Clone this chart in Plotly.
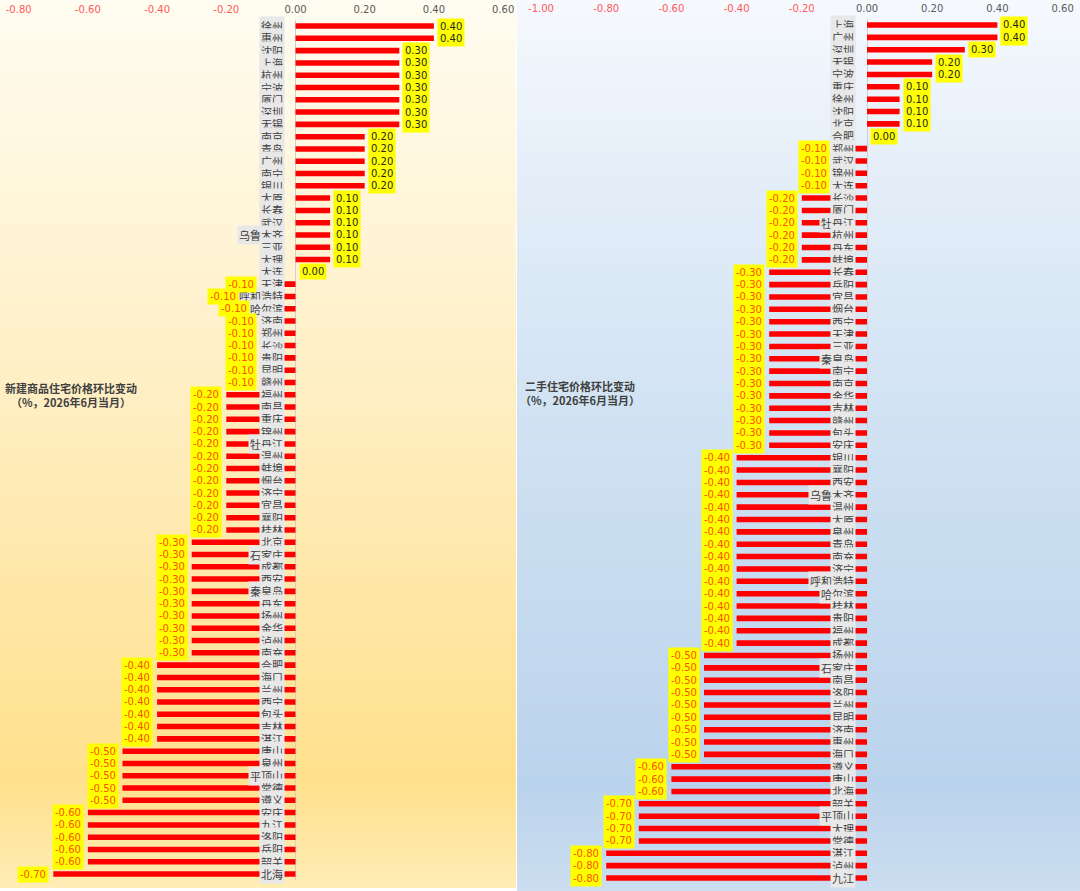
import plotly.graph_objects as go

W, H = 1080, 891

# 新建商品住宅价格环比变动（%）
new_cities = ['徐州', '惠州', '沈阳', '上海', '杭州', '宁波', '厦门', '深圳', '无锡',
              '南京', '青岛', '广州', '南宁', '银川', '太原', '长春', '武汉', '乌鲁木齐',
              '三亚', '大理', '大连', '天津', '呼和浩特', '哈尔滨', '济南', '郑州', '长沙',
              '贵阳', '昆明', '赣州', '福州', '南昌', '重庆', '锦州', '牡丹江', '温州',
              '蚌埠', '烟台', '济宁', '宜昌', '襄阳', '桂林', '北京', '石家庄', '成都',
              '西安', '秦皇岛', '丹东', '扬州', '金华', '泸州', '南充', '合肥', '海口',
              '兰州', '西宁', '包头', '吉林', '湛江', '唐山', '泉州', '平顶山', '常德',
              '遵义', '安庆', '九江', '洛阳', '岳阳', '韶关', '北海']
new_values = [0.4, 0.4, 0.3, 0.3, 0.3, 0.3, 0.3, 0.3, 0.3,
              0.2, 0.2, 0.2, 0.2, 0.2, 0.1, 0.1, 0.1, 0.1,
              0.1, 0.1, 0.0, -0.1, -0.1, -0.1, -0.1, -0.1, -0.1,
              -0.1, -0.1, -0.1, -0.2, -0.2, -0.2, -0.2, -0.2, -0.2,
              -0.2, -0.2, -0.2, -0.2, -0.2, -0.2, -0.3, -0.3, -0.3,
              -0.3, -0.3, -0.3, -0.3, -0.3, -0.3, -0.3, -0.4, -0.4,
              -0.4, -0.4, -0.4, -0.4, -0.4, -0.5, -0.5, -0.5, -0.5,
              -0.5, -0.6, -0.6, -0.6, -0.6, -0.6, -0.7]

# 二手住宅价格环比变动（%）
used_cities = ['上海', '广州', '深圳', '无锡', '宁波', '重庆', '徐州', '沈阳', '北京',
               '合肥', '郑州', '武汉', '锦州', '大连', '长沙', '厦门', '牡丹江', '杭州',
               '丹东', '蚌埠', '长春', '岳阳', '宜昌', '烟台', '西宁', '天津', '三亚',
               '秦皇岛', '南宁', '南京', '金华', '吉林', '赣州', '包头', '安庆', '银川',
               '襄阳', '西安', '乌鲁木齐', '温州', '太原', '泉州', '青岛', '南充', '济宁',
               '呼和浩特', '哈尔滨', '桂林', '贵阳', '福州', '成都', '扬州', '石家庄', '南昌',
               '洛阳', '兰州', '昆明', '济南', '惠州', '海口', '遵义', '唐山', '北海',
               '韶关', '平顶山', '大理', '常德', '湛江', '泸州', '九江']
used_values = [0.4, 0.4, 0.3, 0.2, 0.2, 0.1, 0.1, 0.1, 0.1,
               0.0, -0.1, -0.1, -0.1, -0.1, -0.2, -0.2, -0.2, -0.2,
               -0.2, -0.2, -0.3, -0.3, -0.3, -0.3, -0.3, -0.3, -0.3,
               -0.3, -0.3, -0.3, -0.3, -0.3, -0.3, -0.3, -0.3, -0.4,
               -0.4, -0.4, -0.4, -0.4, -0.4, -0.4, -0.4, -0.4, -0.4,
               -0.4, -0.4, -0.4, -0.4, -0.4, -0.4, -0.5, -0.5, -0.5,
               -0.5, -0.5, -0.5, -0.5, -0.5, -0.5, -0.6, -0.6, -0.6,
               -0.7, -0.7, -0.7, -0.7, -0.8, -0.8, -0.8]

new_ticks = [-0.8, -0.6, -0.4, -0.2, 0.0, 0.2, 0.4, 0.6]
used_ticks = [-1.0, -0.8, -0.6, -0.4, -0.2, 0.0, 0.2, 0.4, 0.6]

new_title = '<b>新建商品住宅价格环比变动<br>（%，2026年6月当月）</b>'
used_title = '<b>二手住宅价格环比变动<br>（%，2026年6月当月）</b>'

CJK = 'Noto Sans CJK SC'
NUM = 'DejaVu Sans'


def tick_text(v):
    color = '#FF5A5A' if v < 0 else '#595959'
    return f'<span style="color:{color}">{v:.2f}</span>'


# panel layout in pixels: (x0, x1) of plot area, (y0, y1) from top
panels = [
    dict(cities=new_cities, values=new_values, ticks=new_ticks, rng=[-0.8, 0.6],
         px=(18.7, 503.1), py=(19.9, 880.2), bg=(0, 516), bgy=(0, 888),
         title=new_title, title_x=3, title_y=395,
         scale=[[0.0, '#FFEDB6'], [0.12, '#FFE08C'], [0.55, '#FFEEC2'],
                [0.8, '#FFF6DC'], [1.0, '#FFFCF1']]),
    dict(cities=used_cities, values=used_values, ticks=used_ticks, rng=[-1.0, 0.6],
         px=(541.0, 1062.6), py=(18.8, 884.2), bg=(517, 1080), bgy=(0, 891),
         title=used_title, title_x=518, title_y=393,
         scale=[[0.0, '#CCDEF0'], [0.12, '#BAD3EC'], [0.55, '#D2E3F3'],
                [0.8, '#E4EEF8'], [1.0, '#F6F9FE']]),
]

fig = go.Figure()
layout = {}
annotations = []

# background gradients first, so they sit under the bars
for i, p in enumerate(panels):
    n = i + 1
    suffix = '' if n == 1 else str(n)
    fig.add_trace(go.Heatmap(z=[[0, 0], [1, 1]], x=[0, 1], y=[0, 1], zmin=0, zmax=1,
                             colorscale=p['scale'], zsmooth='best', showscale=False,
                             hoverinfo='skip', xaxis='x' + suffix, yaxis='y' + suffix))
    layout['xaxis' + suffix] = dict(domain=[p['bg'][0] / W, p['bg'][1] / W], range=[0, 1],
                                    visible=False, fixedrange=True, automargin=False,
                                    anchor='y' + suffix)
    layout['yaxis' + suffix] = dict(domain=[1 - p['bgy'][1] / H, 1 - p['bgy'][0] / H],
                                    range=[0, 1], visible=False, fixedrange=True,
                                    automargin=False, anchor='x' + suffix)

for i, p in enumerate(panels):
    n = i + 3
    xa, ya = f'x{n}', f'y{n}'
    fig.add_trace(go.Bar(x=p['values'], y=p['cities'], orientation='h',
                         marker=dict(color='#FF0000', line=dict(width=0)),
                         xaxis=xa, yaxis=ya, hoverinfo='x+y'))
    layout[f'xaxis{n}'] = dict(
        domain=[p['px'][0] / W, p['px'][1] / W], range=p['rng'], anchor=ya,
        side='top', showgrid=False, showline=False, ticks='', automargin=False,
        tickvals=p['ticks'], ticktext=[tick_text(v) for v in p['ticks']],
        tickfont=dict(family=NUM, size=10, color='#595959'), ticklabelstandoff=4,
        zeroline=True, zerolinecolor='#D0D0D0', zerolinewidth=1, fixedrange=True)
    layout[f'yaxis{n}'] = dict(
        domain=[1 - p['py'][1] / H, 1 - p['py'][0] / H], anchor=xa,
        type='category', categoryorder='array', categoryarray=p['cities'],
        range=[len(p['cities']) - 0.5, -0.5], showticklabels=False, automargin=False,
        showgrid=False, zeroline=False, showline=False, ticks='', fixedrange=True)

    px_per_unit = (p['px'][1] - p['px'][0]) / (p['rng'][1] - p['rng'][0])

    # city names sitting just left of the zero line
    for city in p['cities']:
        annotations.append(dict(
            x=0, y=city, xref=xa, yref=ya, text=city, showarrow=False,
            xanchor='right', xshift=-11, bgcolor='#E8E8E8', borderpad=1,
            font=dict(family=CJK, size=11, color='#404040')))

    # value labels on yellow
    for city, v in zip(p['cities'], p['values']):
        if v >= 0:
            annotations.append(dict(
                x=v, y=city, xref=xa, yref=ya, text=f'{v:.2f}', showarrow=False,
                xanchor='left', xshift=3, bgcolor='#FFFF00', borderpad=2,
                font=dict(family=NUM, size=10, color='#262626')))
        else:
            label_left = -11 - (11 * len(city) + 2)
            box_right = v * px_per_unit - 4
            if box_right > label_left:
                ann_x, shift = 0, label_left
            else:
                ann_x, shift = v, -4
            annotations.append(dict(
                x=ann_x, y=city, xref=xa, yref=ya, text=f'{v:.2f}', showarrow=False,
                xanchor='right', xshift=shift, bgcolor='#FFFF00', borderpad=2,
                font=dict(family=NUM, size=10, color='#FF5000')))

    annotations.append(dict(
        x=p['title_x'] / W, y=1 - p['title_y'] / H, xref='paper', yref='paper',
        text=p['title'], showarrow=False, xanchor='left', yanchor='middle',
        align='center', font=dict(family=CJK, size=11, color='#404040')))

fig.update_layout(
    width=W, height=H,
    margin=dict(l=0, r=0, t=0, b=0, autoexpand=False),
    paper_bgcolor='white',
    plot_bgcolor='rgba(0,0,0,0)',
    showlegend=False,
    bargap=0.55,
    annotations=annotations,
    **layout,
)

# the page body carries a default 8px margin; drop it so the figure fills the window
fig.write_html("out.html", config={'displayModeBar': False},
               post_script="document.body.style.margin='0';")
